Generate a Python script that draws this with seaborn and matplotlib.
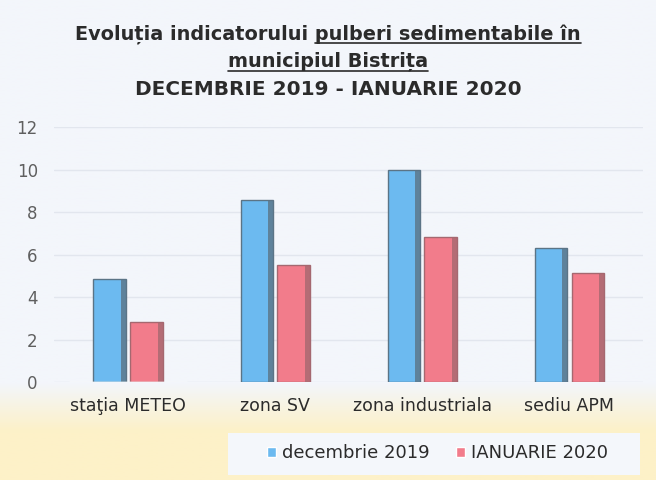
import numpy as np
import pandas as pd
import seaborn as sns
import matplotlib.pyplot as plt
from matplotlib.patches import Rectangle


locations = ['staţia METEO', 'zona SV', 'zona industriala', 'sediu APM']
months = ['decembrie 2019', 'IANUARIE 2020']
dec_2019 = [4.85, 8.55, 10.0, 6.3]
ian_2020 = [2.85, 5.5, 6.85, 5.15]
yticks = [0, 2, 4, 6, 8, 10, 12]

title_plain = 'Evoluția indicatorului '
title_under1 = 'pulberi sedimentabile în'
title_under2 = 'municipiul Bistrița'
title_line3 = 'DECEMBRIE 2019 - IANUARIE 2020'

colors = ['#6cbaf0', '#f27c8b']
edge_colors = ['#5b7486', '#a56870']
text_color = '#2b2b2b'


df = pd.DataFrame({
    'location': locations * 2,
    'month': [months[0]] * len(locations) + [months[1]] * len(locations),
    'value': dec_2019 + ian_2020,
})

sns.set_theme(style='white')
plt.rcParams['font.family'] = ['DejaVu Sans']

fig = plt.figure(figsize=(6.56, 4.8), dpi=100)
fig.patch.set_facecolor('#f3f6fb')
W, H = 656, 480

# background: light blue on top, pale yellow band at the bottom
bg = fig.add_axes([0, 0, 1, 1], zorder=-10)
grad = np.linspace(0, 1, 200)[:, None]
grad = np.clip((grad - 0.80) / 0.10, 0, 1)
top = np.array([0xf3, 0xf6, 0xfb]) / 255
bottom = np.array([0xfd, 0xf1, 0xc8]) / 255
img = top[None, None, :] * (1 - grad[:, :, None]) + bottom[None, None, :] * grad[:, :, None]
bg.imshow(img, aspect='auto', extent=[0, 1, 0, 1], origin='upper')
bg.set_xlim(0, 1)
bg.set_ylim(0, 1)
bg.axis('off')

# legend panel
bg.add_patch(Rectangle((228 / W, 5 / H), 412 / W, 42 / H,
                       facecolor='#f4f7fb', edgecolor='none'))

ax = fig.add_axes([0.083, 0.204, 0.897, 0.531])
ax.set_facecolor('none')

sns.barplot(data=df, x='location', y='value', hue='month', palette=colors,
            saturation=1, width=0.5, gap=0.12, ax=ax, legend=False)

for i, container in enumerate(ax.containers):
    for bar in container:
        bar.set_edgecolor(edge_colors[i])
        bar.set_linewidth(1.0)
        # darker side strip for the pseudo-3d look
        x0 = bar.get_x() + bar.get_width() * 0.85
        ax.add_patch(Rectangle((x0, 0), bar.get_width() * 0.15, bar.get_height(),
                               facecolor=edge_colors[i], edgecolor='none', alpha=0.8))

ax.set_ylim(0, 12)
ax.set_xlim(-0.5, 3.5)
ax.set_yticks(yticks)
ax.set_yticklabels([str(t) for t in yticks], fontsize=12, color='#5f5f5f')
ax.yaxis.grid(True, color='#e2e6ee', linewidth=1)
ax.set_axisbelow(True)
ax.tick_params(axis='x', labelsize=12.5, colors=text_color, pad=11, length=0)
ax.tick_params(axis='y', pad=12, length=0)
ax.set_xlabel('')
ax.set_ylabel('')
for s in ax.spines.values():
    s.set_visible(False)

# legend
for i, m in enumerate(months):
    ax.bar([0], [0], color=colors[i], label=m)
handles, labels = ax.get_legend_handles_labels()
fig.legend(handles[-2:], labels[-2:], loc='center', bbox_to_anchor=(0.667, 0.056),
           ncol=2, frameon=False, fontsize=13, handlelength=0.5, handleheight=0.5,
           handletextpad=0.3, columnspacing=1.5, labelcolor=text_color)

# title, with the underlined part
tkw = dict(fontsize=13.9, color=text_color, fontweight='bold')
fig.canvas.draw()
renderer = fig.canvas.get_renderer()

t_full = fig.text(0.5, 1 - 40 / H, title_plain + title_under1, ha='center', va='baseline', **tkw)
t_pre = fig.text(0, 0, title_plain, alpha=0, **tkw)
bb_full = t_full.get_window_extent(renderer)
bb_pre = t_pre.get_window_extent(renderer)
ux0 = (bb_full.x0 + bb_pre.width) / W
ux1 = bb_full.x1 / W
uy = 1 - 43 / H
fig.add_artist(plt.Line2D([ux0, ux1], [uy, uy], color=text_color, linewidth=1.2))

t2 = fig.text(0.5, 1 - 67 / H, title_under2, ha='center', va='baseline', **tkw)
bb2 = t2.get_window_extent(renderer)
uy2 = 1 - 70.5 / H
fig.add_artist(plt.Line2D([bb2.x0 / W, bb2.x1 / W], [uy2, uy2], color=text_color, linewidth=1.2))

fig.text(0.5, 1 - 95 / H, title_line3, ha='center', va='baseline',
         fontsize=14.4, color=text_color, fontweight='bold')

fig.savefig('out.png', dpi=100, facecolor=fig.get_facecolor())
